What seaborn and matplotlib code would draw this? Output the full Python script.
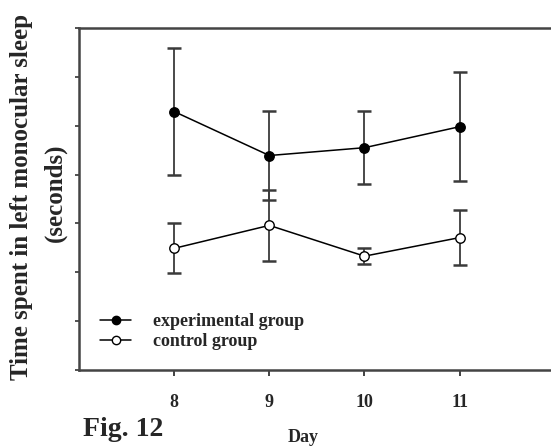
import matplotlib
matplotlib.use("Agg")
import matplotlib.pyplot as plt
import seaborn as sns
import pandas as pd
from matplotlib.lines import Line2D

# Day of measurement
days = [8, 9, 10, 11]

# Mean time in left monocular sleep and its error bar half-widths
experimental_mean = [52.9, 43.9, 45.5, 49.8]
experimental_err = [13.0, 9.2, 7.5, 11.2]
control_mean = [24.9, 29.6, 23.3, 27.1]
control_err = [5.1, 7.2, 1.7, 5.7]

group_names = ["experimental group", "control group"]

df = pd.DataFrame({
    "Day": days * 2,
    "Time": experimental_mean + control_mean,
    "Err": experimental_err + control_err,
    "Group": [group_names[0]] * len(days) + [group_names[1]] * len(days),
})

sns.set_theme(style="ticks")
plt.rcParams["font.family"] = ["Liberation Serif", "DejaVu Serif"]
plt.rcParams["font.weight"] = "bold"

fig = plt.figure(figsize=(5.51, 4.47), dpi=100)
ax = fig.add_axes([79 / 551, 77 / 447, 1 - 79 / 551, 342 / 447])

err_color = "#3a3a3a"
for name in group_names:
    sub = df[df["Group"] == name]
    ax.errorbar(sub["Day"], sub["Time"], yerr=sub["Err"], fmt="none",
                ecolor=err_color, elinewidth=1.3, capsize=5, capthick=1.8,
                zorder=2)

sns.lineplot(data=df, x="Day", y="Time", hue="Group", style="Group",
             palette=["black", "black"], markers=["o", "o"], dashes=False,
             linewidth=1.1, legend=False, ax=ax, zorder=3)

# filled markers for the experimental group, open ones for the control group
for line, face in zip(ax.get_lines()[-2:], ["black", "white"]):
    line.set_markersize(6.8)
    line.set_markerfacecolor(face)
    line.set_markeredgecolor("black")
    line.set_markeredgewidth(1.0)

ax.set_xlim(7, 11.96)
ax.set_ylim(0, 70)
ax.set_xticks(days)
ax.set_xticklabels([str(d) for d in days], fontsize=13, fontweight="bold")
ax.set_yticks(range(0, 71, 10))
ax.set_yticklabels([])
ax.tick_params(axis="x", direction="out", length=4, width=1.3, pad=13,
               color="#333333")
ax.tick_params(axis="y", direction="out", length=3, width=1.2,
               color="#333333")

for side in ["left", "bottom", "top"]:
    ax.spines[side].set_color("#444444")
    ax.spines[side].set_linewidth(1.8)
ax.spines["right"].set_visible(False)

ax.set_xlabel("")
ax.set_ylabel("")

fig.text(22 / 551, 1 - 197 / 447, "Time spent in left monocular sleep",
         rotation=90, ha="center", va="center", fontsize=18,
         fontweight="bold")
fig.text(55 / 551, 1 - 193 / 447, "(seconds)", rotation=90, ha="center",
         va="center", fontsize=18, fontweight="bold")

fig.text(303 / 551, 1 - 437 / 447, "Day", ha="center", va="center",
         fontsize=13, fontweight="bold")
fig.text(83 / 551, 1 - 430 / 447, "Fig. 12", ha="left", va="center",
         fontsize=20, fontweight="bold")

handles = [
    Line2D([], [], color="black", linewidth=1.1, marker="o", markersize=6,
           markerfacecolor="black", markeredgecolor="black"),
    Line2D([], [], color="black", linewidth=1.1, marker="o", markersize=6,
           markerfacecolor="white", markeredgecolor="black"),
]
ax.legend(handles, group_names, loc="upper left",
          bbox_to_anchor=(14 / 472, (370 - 306) / 342), borderaxespad=0,
          frameon=False, handlelength=1.7, handletextpad=1.2,
          labelspacing=0.15,
          prop={"family": "Liberation Serif", "weight": "bold", "size": 13})

fig.savefig("out.png", dpi=100)
